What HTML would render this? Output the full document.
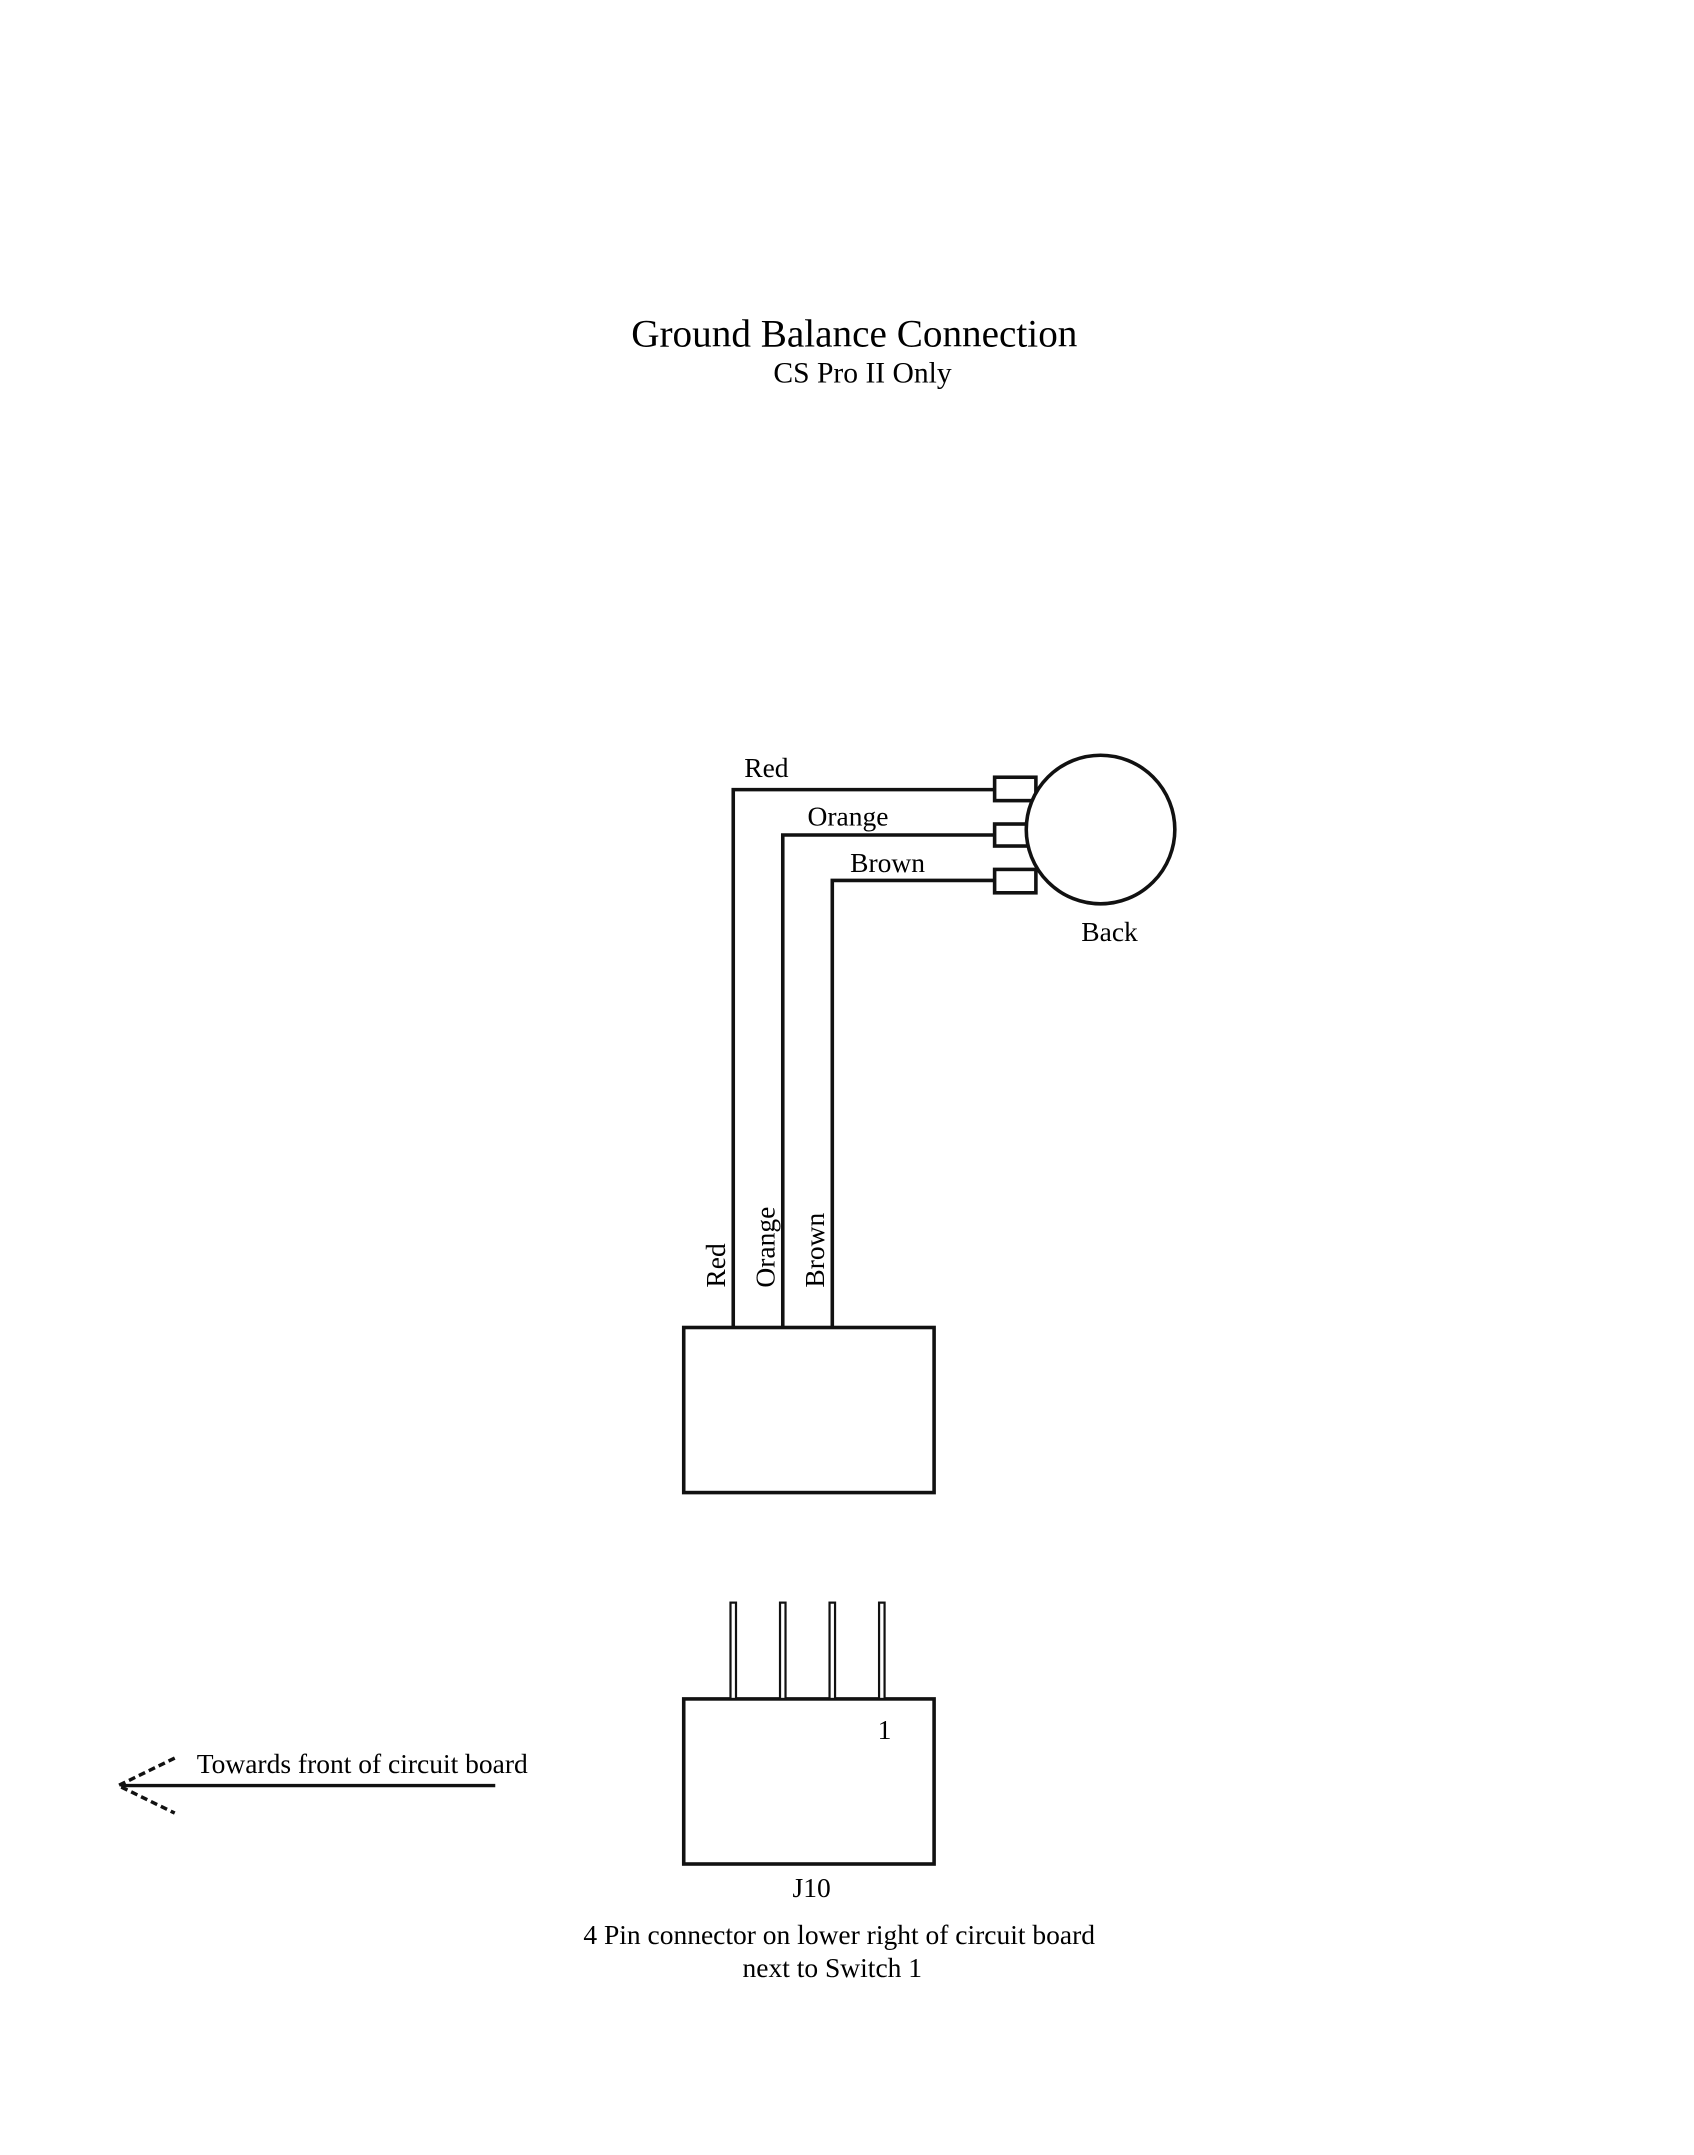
<!DOCTYPE html>
<html><head><style>html,body{margin:0;padding:0;background:#fff}svg{display:block}</style></head>
<body>
<svg width="1694" height="2155" viewBox="0 0 1240 1577.5" xmlns="http://www.w3.org/2000/svg" font-family="Liberation Serif, serif" fill="#000">
<rect width="1240" height="1577.5" fill="#fff"/>
<g transform="scale(1.007) translate(3,6)">
<text x="618" y="246" font-size="28.5" text-anchor="middle">Ground Balance Connection</text>
<text x="624" y="272" font-size="21.5" text-anchor="middle">CS Pro II Only</text>
<g fill="none" stroke="#111" stroke-width="2.6">
<polyline points="530,959 530,568 720,568"/>
<polyline points="566,959 566,601 720,601"/>
<polyline points="602,959 602,634 720,634"/>
<rect x="720" y="559" width="30" height="17"/>
<rect x="720" y="593" width="30" height="16"/>
<rect x="720" y="626" width="30" height="17"/>
</g>
<circle cx="797" cy="597" r="54" fill="#fff" stroke="#111" stroke-width="2.6"/>
<g font-size="20">
<text x="538" y="559">Red</text>
<text x="584" y="594">Orange</text>
<text x="615" y="628">Brown</text>
<text x="783" y="678">Back</text>
<text transform="translate(524,930) rotate(-90)">Red</text>
<text transform="translate(560,930) rotate(-90)">Orange</text>
<text transform="translate(596,930) rotate(-90)">Brown</text>
<text x="635" y="1258">1</text>
<text x="587" y="1373" text-anchor="middle">J10</text>
<text x="607" y="1407" text-anchor="middle">4 Pin connector on lower right of circuit board</text>
<text x="602" y="1431" text-anchor="middle">next to Switch 1</text>
<text x="140" y="1283">Towards front of circuit board</text>
</g>
<g fill="none" stroke="#111" stroke-width="2.6">
<rect x="494" y="959" width="182" height="120"/>
<rect x="494" y="1229" width="182" height="120"/>
</g>
<g fill="#fff" stroke="#111" stroke-width="1.6">
<rect x="528" y="1159" width="4" height="70"/>
<rect x="564" y="1159" width="4" height="70"/>
<rect x="600" y="1159" width="4" height="70"/>
<rect x="636" y="1159" width="4" height="70"/>
</g>
<g stroke="#111" fill="none">
<line x1="85" y1="1292" x2="357" y2="1292" stroke-width="2.5"/>
<polyline points="124,1272 83,1292 124,1312" stroke-width="2.5" stroke-dasharray="5,3"/>
</g>
</g>
</svg>
</body></html>
